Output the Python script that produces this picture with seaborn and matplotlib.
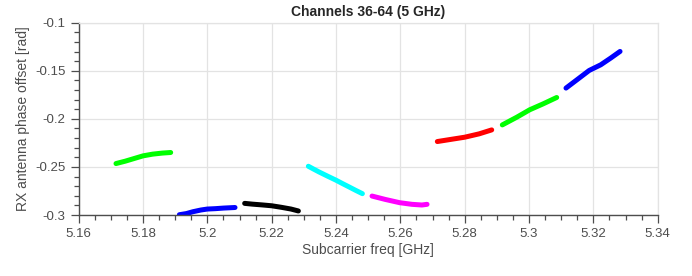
import pandas as pd
import seaborn as sns
import matplotlib.pyplot as plt
from matplotlib.ticker import MultipleLocator

# segments, one per 20 MHz channel
seg_names = ["ch36", "ch40", "ch44", "ch48", "ch52", "ch56", "ch60", "ch64"]
seg_colors = ["#00ff00", "#0000ff", "#000000", "#00ffff", "#ff00ff", "#ff0000", "#00ff00", "#0000ff"]

freq = {
    "ch36": [5.1716, 5.1745, 5.1775, 5.1800, 5.1830, 5.1860, 5.1886],
    "ch40": [5.1913, 5.1935, 5.1955, 5.1980, 5.2000, 5.2025, 5.2050, 5.2086],
    "ch44": [5.2116, 5.2140, 5.2170, 5.2200, 5.2230, 5.2260, 5.2283],
    "ch48": [5.2314, 5.2330, 5.2347, 5.2375, 5.2400, 5.2420, 5.2440, 5.2462, 5.2482],
    "ch52": [5.2512, 5.2553, 5.2598, 5.2636, 5.2667, 5.2683],
    "ch56": [5.2715, 5.2762, 5.2800, 5.2845, 5.2884],
    "ch60": [5.2917, 5.2962, 5.3002, 5.3044, 5.3086],
    "ch64": [5.3115, 5.3156, 5.3187, 5.3223, 5.3254, 5.3283],
}
phase = {
    "ch36": [-0.2465, -0.2440, -0.2410, -0.2385, -0.2367, -0.2356, -0.2350],
    "ch40": [-0.2997, -0.2985, -0.2966, -0.2948, -0.2938, -0.2934, -0.2928, -0.2922],
    "ch44": [-0.2879, -0.2887, -0.2895, -0.2904, -0.2920, -0.2938, -0.2958],
    "ch48": [-0.2493, -0.2522, -0.2552, -0.2598, -0.2638, -0.2673, -0.2707, -0.2745, -0.2778],
    "ch52": [-0.2803, -0.2838, -0.2872, -0.2889, -0.2896, -0.2889],
    "ch56": [-0.2236, -0.2211, -0.2191, -0.2156, -0.2115],
    "ch60": [-0.2063, -0.1983, -0.1906, -0.1844, -0.1778],
    "ch64": [-0.1680, -0.1576, -0.1497, -0.1438, -0.1368, -0.1299],
}

rows = []
for s in seg_names:
    for f, p in zip(freq[s], phase[s]):
        rows.append({"seg": s, "freq": f, "phase": p})
df = pd.DataFrame(rows)

sns.set_style("white")
plt.rcParams["font.family"] = ["Liberation Sans", "DejaVu Sans"]

fig = plt.figure(figsize=(6.92, 2.76), dpi=100)
ax = fig.add_axes([0.1137, 0.221, 0.8367, 0.6968])

sns.lineplot(data=df, x="freq", y="phase", hue="seg", palette=dict(zip(seg_names, seg_colors)),
             hue_order=seg_names, units="seg", estimator=None, sort=False,
             linewidth=3.6, legend=False, ax=ax)

ax.set_xlim(5.16, 5.34)
ax.set_ylim(-0.3, -0.1)
ax.xaxis.set_major_locator(MultipleLocator(0.02))
ax.xaxis.set_minor_locator(MultipleLocator(0.005))
ax.yaxis.set_major_locator(MultipleLocator(0.05))
ax.yaxis.set_minor_locator(MultipleLocator(0.01))
ax.set_xticks(ax.get_xticks())
ax.set_xticklabels(["%g" % round(t, 2) for t in ax.get_xticks()])
ax.set_yticks(ax.get_yticks())
ax.set_yticklabels(["%g" % round(t, 2) for t in ax.get_yticks()])
ax.set_xlim(5.16, 5.34)
ax.set_ylim(-0.3, -0.1)

ax.grid(True, which="major", color="#e3e3e3", linewidth=0.9)
ax.set_axisbelow(True)
for side in ["top", "right"]:
    ax.spines[side].set_color("#e3e3e3")
    ax.spines[side].set_linewidth(0.9)
for side in ["left", "bottom"]:
    ax.spines[side].set_color("#4d4d4d")
    ax.spines[side].set_linewidth(1.0)

ax.tick_params(which="major", direction="out", length=6, width=0.9, color="#4d4d4d",
               labelsize=9.5, labelcolor="#4d4d4d", left=True, bottom=True)
ax.tick_params(which="minor", direction="out", length=3.5, width=0.9, color="#4d4d4d",
               left=True, bottom=True)

ax.set_xlabel("Subcarrier freq [GHz]", fontsize=10, color="#4d4d4d", labelpad=2)
ax.set_ylabel("RX antenna phase offset [rad]", fontsize=10, color="#4d4d4d", labelpad=4)
ax.set_title("Channels 36-64 (5 GHz)", fontsize=10, fontweight="bold", pad=5)

fig.savefig("out.png", dpi=100)
